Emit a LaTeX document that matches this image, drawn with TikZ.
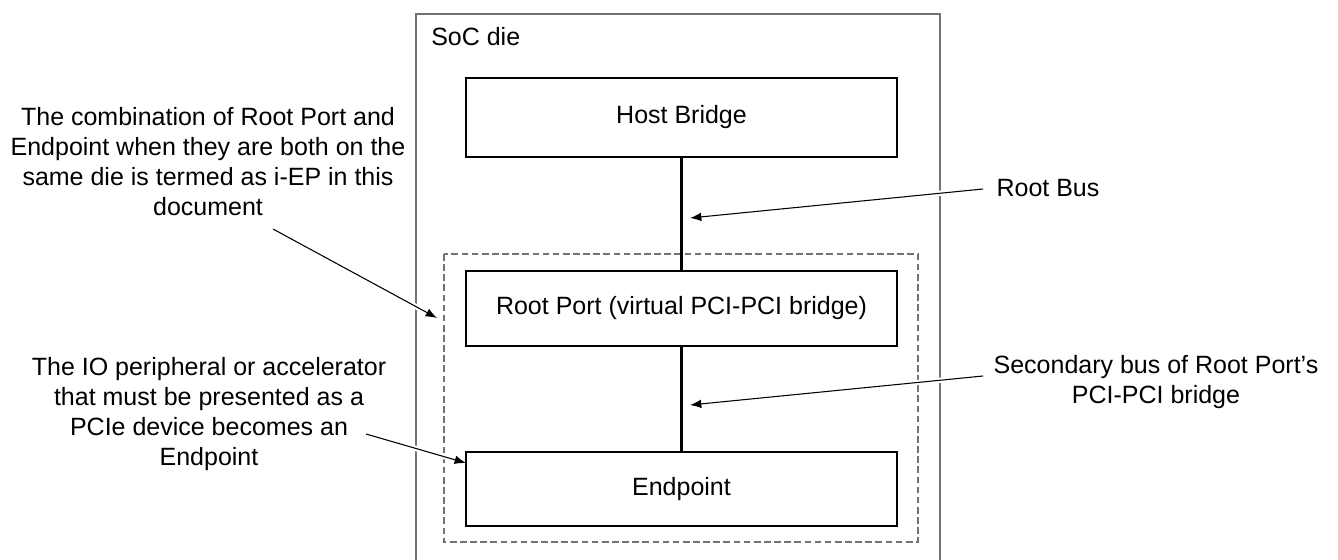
\documentclass[tikz,border=0pt]{standalone}
\usepackage{fontspec}
\setmainfont{Liberation Sans}
\usetikzlibrary{arrows.meta}
\begin{document}
\begin{tikzpicture}[x=0.75pt,y=-0.75pt,
  txt/.style={font=\fontsize{18.75}{22.5}\selectfont, inner sep=0pt, align=center},
  blk/.style={draw=black, line width=1.5pt, minimum width=323.25pt, inner sep=0pt, font=\fontsize{18.75}{22.5}\selectfont},
  bus/.style={line width=2.3pt},
  soc/.style={draw=black!55, line width=1.1pt},
  grp/.style={draw=black!55, line width=1.5pt, dash pattern=on 5pt off 2.6pt},
  callout/.style={line width=0.8pt, -{Latex[length=8.5pt,width=6.5pt]}, preaction={draw=white, line width=4pt}}
]
\useasboundingbox (0,0) rectangle (1338,560);
% SoC die frame (open at bottom)
\draw[soc] (416,562) -- (416,14) -- (940,14) -- (940,562);
\node[txt, anchor=west] (soclbl) at (431,37) {SoC die};
% i-EP group
\draw[grp] (444,254) rectangle (918,542);
% labels
\node[txt] (lblA) at (208,162) {The combination of Root Port and\\Endpoint when they are both on the\\same die is termed as i-EP in this\\document};
\node[txt] (lblB) at (209,414) {The IO peripheral or accelerator\\that must be presented as a\\PCIe device becomes an\\Endpoint};
\node[txt] (lblC) at (1048,188) {Root Bus};
\node[txt] (lblD) at (1156,382) {Secondary bus of Root Port’s\\PCI-PCI bridge};
% callout coordinates
\coordinate (aS) at (273,229);
\coordinate (aE) at (437,318);
\coordinate (bS) at (366,434);
\coordinate (bE) at (466,463);
\coordinate (cS) at (983,189);
\coordinate (cE) at (690,218);
\coordinate (dS) at (983,376);
\coordinate (dE) at (690,405);
\draw[callout] (aS) -- (aE);
\draw[callout] (bS) -- (bE);
\draw[callout] (cS) -- (cE);
\draw[callout] (dS) -- (dE);
% blocks
\node[blk, minimum height=59.25pt] (hb) at (681.5,117.5) {Host Bridge};
\node[blk, minimum height=56.25pt] (rp) at (681.5,308.5) {Root Port (virtual PCI-PCI bridge)};
\node[blk, minimum height=55.5pt] (ep) at (681.5,489) {Endpoint};
\draw[bus] (hb.south) -- (rp.north);
\draw[bus] (rp.south) -- (ep.north);
\end{tikzpicture}
\end{document}
